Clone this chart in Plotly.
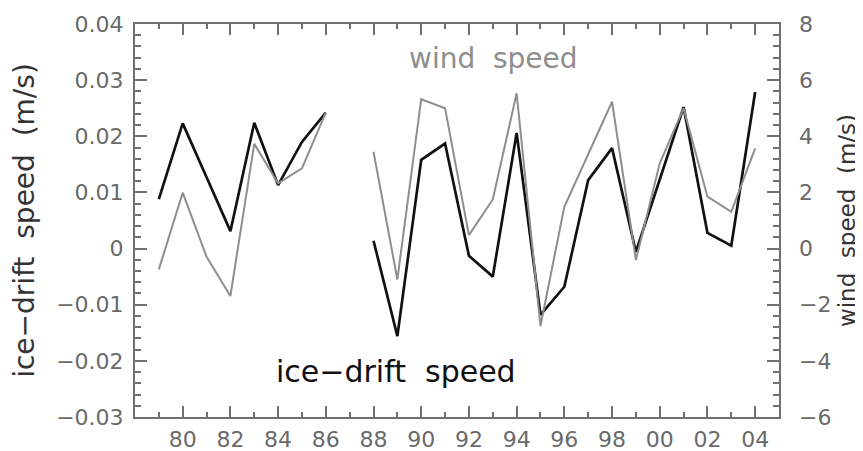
import plotly.graph_objects as go

years = [1979, 1980, 1981, 1982, 1983, 1984, 1985, 1986, 1987,
         1988, 1989, 1990, 1991, 1992, 1993, 1994, 1995, 1996,
         1997, 1998, 1999, 2000, 2001, 2002, 2003, 2004]

ice_drift = [0.0088, 0.0223, 0.0127, 0.0031, 0.0224, 0.0113, 0.0190, 0.0242, None,
             0.0014, -0.0156, 0.0158, 0.0187, -0.0013, -0.0050, 0.0206, -0.0118, -0.0068,
             0.0122, 0.0179, -0.0006, 0.0123, 0.0252, 0.0028, 0.0005, 0.0279]

wind = [-0.74, 1.99, -0.29, -1.69, 3.73, 2.32, 2.86, 4.84, None,
        3.45, -1.10, 5.32, 5.00, 0.48, 1.75, 5.53, -2.76, 1.49,
        3.39, 5.23, -0.41, 3.04, 5.00, 1.85, 1.31, 3.57]

x_tickvals = [1980, 1982, 1984, 1986, 1988, 1990, 1992, 1994, 1996, 1998, 2000, 2002, 2004]
x_ticktext = ["80", "82", "84", "86", "88", "90", "92", "94", "96", "98", "00", "02", "04"]

FONT = "DejaVu Sans"
AXC = "#707070"
LBL = "#6a6a6a"

fig = go.Figure()
fig.add_trace(go.Scatter(x=years, y=wind, yaxis="y2", mode="lines",
                         line=dict(color="#8e8e8e", width=2), connectgaps=False,
                         showlegend=False))
fig.add_trace(go.Scatter(x=years, y=ice_drift, yaxis="y", mode="lines",
                         line=dict(color="#111111", width=2.7), connectgaps=False,
                         showlegend=False))

# page body has an 8px default margin, so the figure is sized to fit the window
fig.update_layout(
    width=855, height=443,
    margin=dict(l=127, r=84, t=16, b=34, autoexpand=False),
    plot_bgcolor="white", paper_bgcolor="white",
    font=dict(family=FONT, color=LBL, size=22),
    xaxis=dict(range=[1978, 2005], tickvals=x_tickvals, ticktext=x_ticktext,
               automargin=False,
               showgrid=False, zeroline=False, showline=True, linecolor=AXC, linewidth=2,
               mirror="ticks", ticks="inside", ticklen=11, tickcolor=AXC, tickwidth=1.5,
               minor=dict(ticks="inside", dtick=1, tick0=1979, ticklen=5, tickcolor=AXC, tickwidth=1.5),
               tickfont=dict(size=22, color=LBL), ticklabelstandoff=2),
    yaxis=dict(range=[-0.03, 0.04], dtick=0.01, tick0=0, automargin=False,
               showgrid=False, zeroline=False, showline=True, linecolor=AXC, linewidth=2,
               mirror=True, ticks="inside", ticklen=12, tickcolor=AXC, tickwidth=1.5,
               minor=dict(ticks="inside", dtick=0.002, tick0=0, ticklen=6, tickcolor=AXC, tickwidth=1.5),
               tickfont=dict(size=22, color=LBL), ticklabelstandoff=5,
               title=dict(text="ice−drift  speed  (m/s)", font=dict(size=28, color="#333333"), standoff=14)),
    yaxis2=dict(range=[-6, 8], dtick=2, tick0=0, overlaying="y", side="right", automargin=False,
                showgrid=False, zeroline=False, showline=False,
                ticks="inside", ticklen=12, tickcolor=AXC, tickwidth=1.5,
                minor=dict(ticks="inside", dtick=0.4, tick0=0, ticklen=6, tickcolor=AXC, tickwidth=1.5),
                tickfont=dict(size=22, color=LBL), ticklabelstandoff=19,
                title=dict(text="wind  speed  (m/s)", font=dict(size=23, color="#333333"), standoff=8)),
    annotations=[
        dict(text="wind  speed", xref="paper", yref="paper", x=0.556, y=0.913,
             xanchor="center", yanchor="middle", showarrow=False,
             font=dict(family=FONT, size=28, color="#8e8e8e")),
        dict(text="ice−drift  speed", xref="paper", yref="paper", x=0.405, y=0.115,
             xanchor="center", yanchor="middle", showarrow=False,
             font=dict(family=FONT, size=30, color="#111111")),
    ],
)

fig.write_html("out.html")
